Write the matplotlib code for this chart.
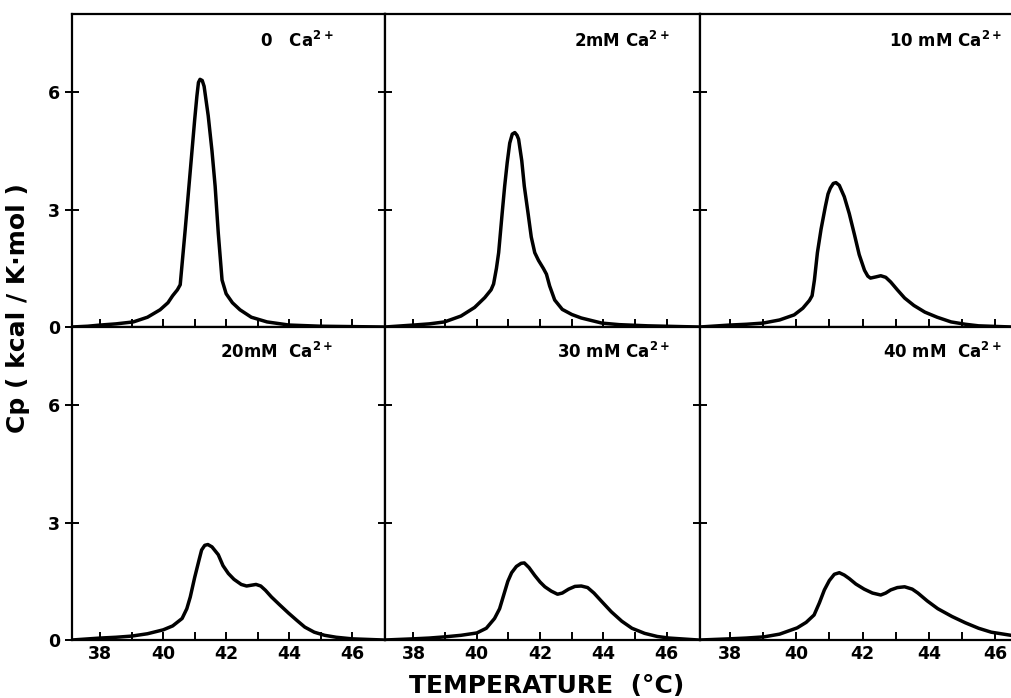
import matplotlib
matplotlib.use('Agg')
import matplotlib.pyplot as plt

# temperature (deg C) / Cp (kcal/K.mol)
t_0mm = [37.1, 37.6, 38.0, 38.5, 39.05, 39.5, 39.9, 40.15, 40.3, 40.45, 40.54, 40.7, 40.85, 41.0,
         41.07, 41.12, 41.17, 41.24, 41.3, 41.43, 41.55, 41.65, 41.75, 41.87, 42.0, 42.2, 42.44, 42.8, 43.3,
         44.0, 45.0, 46.0, 47.0]
cp_0mm = [0.0, 0.02, 0.05, 0.08, 0.13, 0.25, 0.44, 0.62, 0.8, 0.95, 1.08, 2.5, 3.9, 5.3,
          5.9, 6.25, 6.33, 6.3, 6.15, 5.4, 4.5, 3.6, 2.4, 1.2, 0.85, 0.62, 0.44, 0.25, 0.13,
          0.05, 0.02, 0.01, 0.0]

t_2mm = [37.1, 38.0, 38.5, 38.98, 39.5, 39.93, 40.25, 40.45, 40.53, 40.62, 40.69, 40.8, 40.88, 40.96, 41.04,
         41.12, 41.2, 41.27, 41.32, 41.42, 41.5, 41.62, 41.72, 41.83, 41.95, 42.1, 42.2, 42.3, 42.46, 42.7,
         43.0, 43.3, 43.95, 44.5, 45.4, 47.0]
cp_2mm = [0.0, 0.05, 0.08, 0.13, 0.28, 0.5, 0.75, 0.95, 1.1, 1.5, 1.9, 2.9, 3.6, 4.2, 4.7,
          4.93, 4.97, 4.9, 4.8, 4.25, 3.6, 2.9, 2.3, 1.9, 1.7, 1.5, 1.35, 1.05, 0.69, 0.45,
          0.32, 0.23, 0.1, 0.06, 0.03, 0.0]

t_10mm = [37.1, 38.0, 38.5, 39.0, 39.5, 39.94, 40.2, 40.4, 40.48, 40.55, 40.64, 40.75, 40.88, 40.96, 41.03,
          41.12, 41.2, 41.3, 41.45, 41.6, 41.76, 41.9, 42.06, 42.16, 42.24, 42.4, 42.55, 42.7, 42.85, 43.05,
          43.27, 43.55, 43.88, 44.25, 44.67, 45.1, 45.5, 46.5, 47.0]
cp_10mm = [0.0, 0.05, 0.07, 0.1, 0.18, 0.31, 0.48, 0.68, 0.8, 1.2, 1.9, 2.5, 3.08, 3.4, 3.55,
           3.67, 3.69, 3.62, 3.33, 2.9, 2.35, 1.85, 1.45, 1.3, 1.25, 1.28, 1.31, 1.27, 1.15, 0.95,
           0.74, 0.55, 0.38, 0.25, 0.13, 0.07, 0.03, 0.0, 0.0]

t_20mm = [37.1, 38.0, 38.5, 39.0, 39.5, 40.0, 40.3, 40.6, 40.75, 40.86, 41.0, 41.14, 41.22, 41.32, 41.42,
          41.55, 41.75, 41.9, 42.07, 42.25, 42.48, 42.65, 42.8, 42.95, 43.1, 43.25, 43.44, 43.7, 43.98, 44.25,
          44.5, 44.8, 45.13, 45.5, 46.0, 47.0]
cp_20mm = [0.0, 0.05, 0.07, 0.1, 0.16, 0.26, 0.36, 0.55, 0.8, 1.1, 1.6, 2.05, 2.3, 2.42, 2.44,
           2.38, 2.18, 1.9, 1.7, 1.55, 1.42, 1.38, 1.4, 1.42, 1.38, 1.27, 1.1, 0.9, 0.69, 0.5,
           0.33, 0.2, 0.12, 0.07, 0.03, 0.0]

t_30mm = [37.1, 38.0, 38.5, 38.98, 39.5, 40.0, 40.3, 40.56, 40.72, 40.85, 40.98, 41.1, 41.25, 41.4, 41.5,
          41.65, 41.83, 42.0, 42.15, 42.35, 42.55, 42.7, 42.9, 43.1, 43.3, 43.5, 43.7, 43.95, 44.25, 44.58,
          44.9, 45.3, 45.7, 46.07, 47.0]
cp_30mm = [0.0, 0.03, 0.05, 0.08, 0.12, 0.18, 0.3, 0.55, 0.8, 1.15, 1.5, 1.72, 1.88, 1.96, 1.97,
           1.85, 1.65, 1.48, 1.36, 1.25, 1.17, 1.2, 1.3, 1.37, 1.38, 1.34, 1.2, 0.98, 0.72, 0.48,
           0.3, 0.17, 0.09, 0.05, 0.0]

t_40mm = [37.1, 38.0, 38.5, 39.03, 39.5, 40.03, 40.3, 40.54, 40.7, 40.85, 41.0, 41.15, 41.3, 41.45, 41.6,
          41.8, 42.05, 42.3, 42.55, 42.7, 42.85, 43.05, 43.27, 43.5, 43.67, 43.95, 44.27, 44.7, 45.1, 45.5,
          45.88, 46.4, 47.0]
cp_40mm = [0.0, 0.03, 0.05, 0.08, 0.15, 0.31, 0.45, 0.64, 0.95, 1.28, 1.52, 1.68, 1.72, 1.66, 1.57,
           1.43, 1.3, 1.2, 1.15, 1.2, 1.28, 1.34, 1.36, 1.3, 1.2, 1.0, 0.8, 0.6, 0.44, 0.3,
           0.2, 0.13, 0.05]

labels = [r'0   Ca$^{\mathbf{2+}}$', r'2mM Ca$^{\mathbf{2+}}$', r'10 mM Ca$^{\mathbf{2+}}$',
          r'20mM  Ca$^{\mathbf{2+}}$', r'30 mM Ca$^{\mathbf{2+}}$', r'40 mM  Ca$^{\mathbf{2+}}$']
series = [(t_0mm, cp_0mm), (t_2mm, cp_2mm), (t_10mm, cp_10mm),
          (t_20mm, cp_20mm), (t_30mm, cp_30mm), (t_40mm, cp_40mm)]

x_ticks = list(range(38, 47))
x_ticklabels = [str(t) if t % 2 == 0 else '' for t in x_ticks]
y_ticks = [0, 3, 6]

plt.rcParams['font.family'] = 'DejaVu Sans'
plt.rcParams['font.weight'] = 'bold'
plt.rcParams['mathtext.default'] = 'bf'

fig = plt.figure(figsize=(10.11, 6.98), dpi=100)
W, H = 1011.0, 698.0

# panel boxes in pixels: left edges / widths, top and bottom row
lefts = [72, 385, 700]
widths = [313, 315, 330]
rows = [(14, 327), (327, 640)]
label_x = [45.4, 46.1, 46.2]
label_y = [7.3, 7.35]

for i, (t, cp) in enumerate(series):
    r, c = divmod(i, 3)
    top, bot = rows[r]
    ax = fig.add_axes([lefts[c] / W, 1 - bot / H, widths[c] / W, (bot - top) / H])
    ax.plot(t, cp, color='black', lw=2.5, solid_joinstyle='round', solid_capstyle='round')
    ax.set_xlim(37.1, 47.05)
    ax.set_ylim(0, 8)
    for s in ax.spines.values():
        s.set_linewidth(1.6)
    ax.set_xticks(x_ticks)
    ax.tick_params(axis='x', direction='in', length=6, width=1.4, top=False)
    ax.set_yticks(y_ticks)
    ax.tick_params(axis='y', direction='inout', length=10, width=1.4, right=False)
    if r == 1:
        ax.set_xticklabels(x_ticklabels, fontsize=12.5, fontweight='bold')
    else:
        ax.set_xticklabels([])
    if c == 0:
        ax.set_yticklabels([str(v) for v in y_ticks], fontsize=12.5, fontweight='bold')
    else:
        ax.set_yticklabels([])
    ax.text(label_x[c], label_y[r], labels[i], ha='right', va='center', fontsize=12, fontweight='bold')

fig.text(547 / W, 1 - 686 / H, 'TEMPERATURE  (°C)', ha='center', va='center', fontsize=18, fontweight='bold')
fig.text(18 / W, 1 - 308 / H, 'Cp ( kcal / K·mol )', ha='center', va='center', rotation=90,
         fontsize=18, fontweight='bold')

fig.savefig('out.png', dpi=100)
